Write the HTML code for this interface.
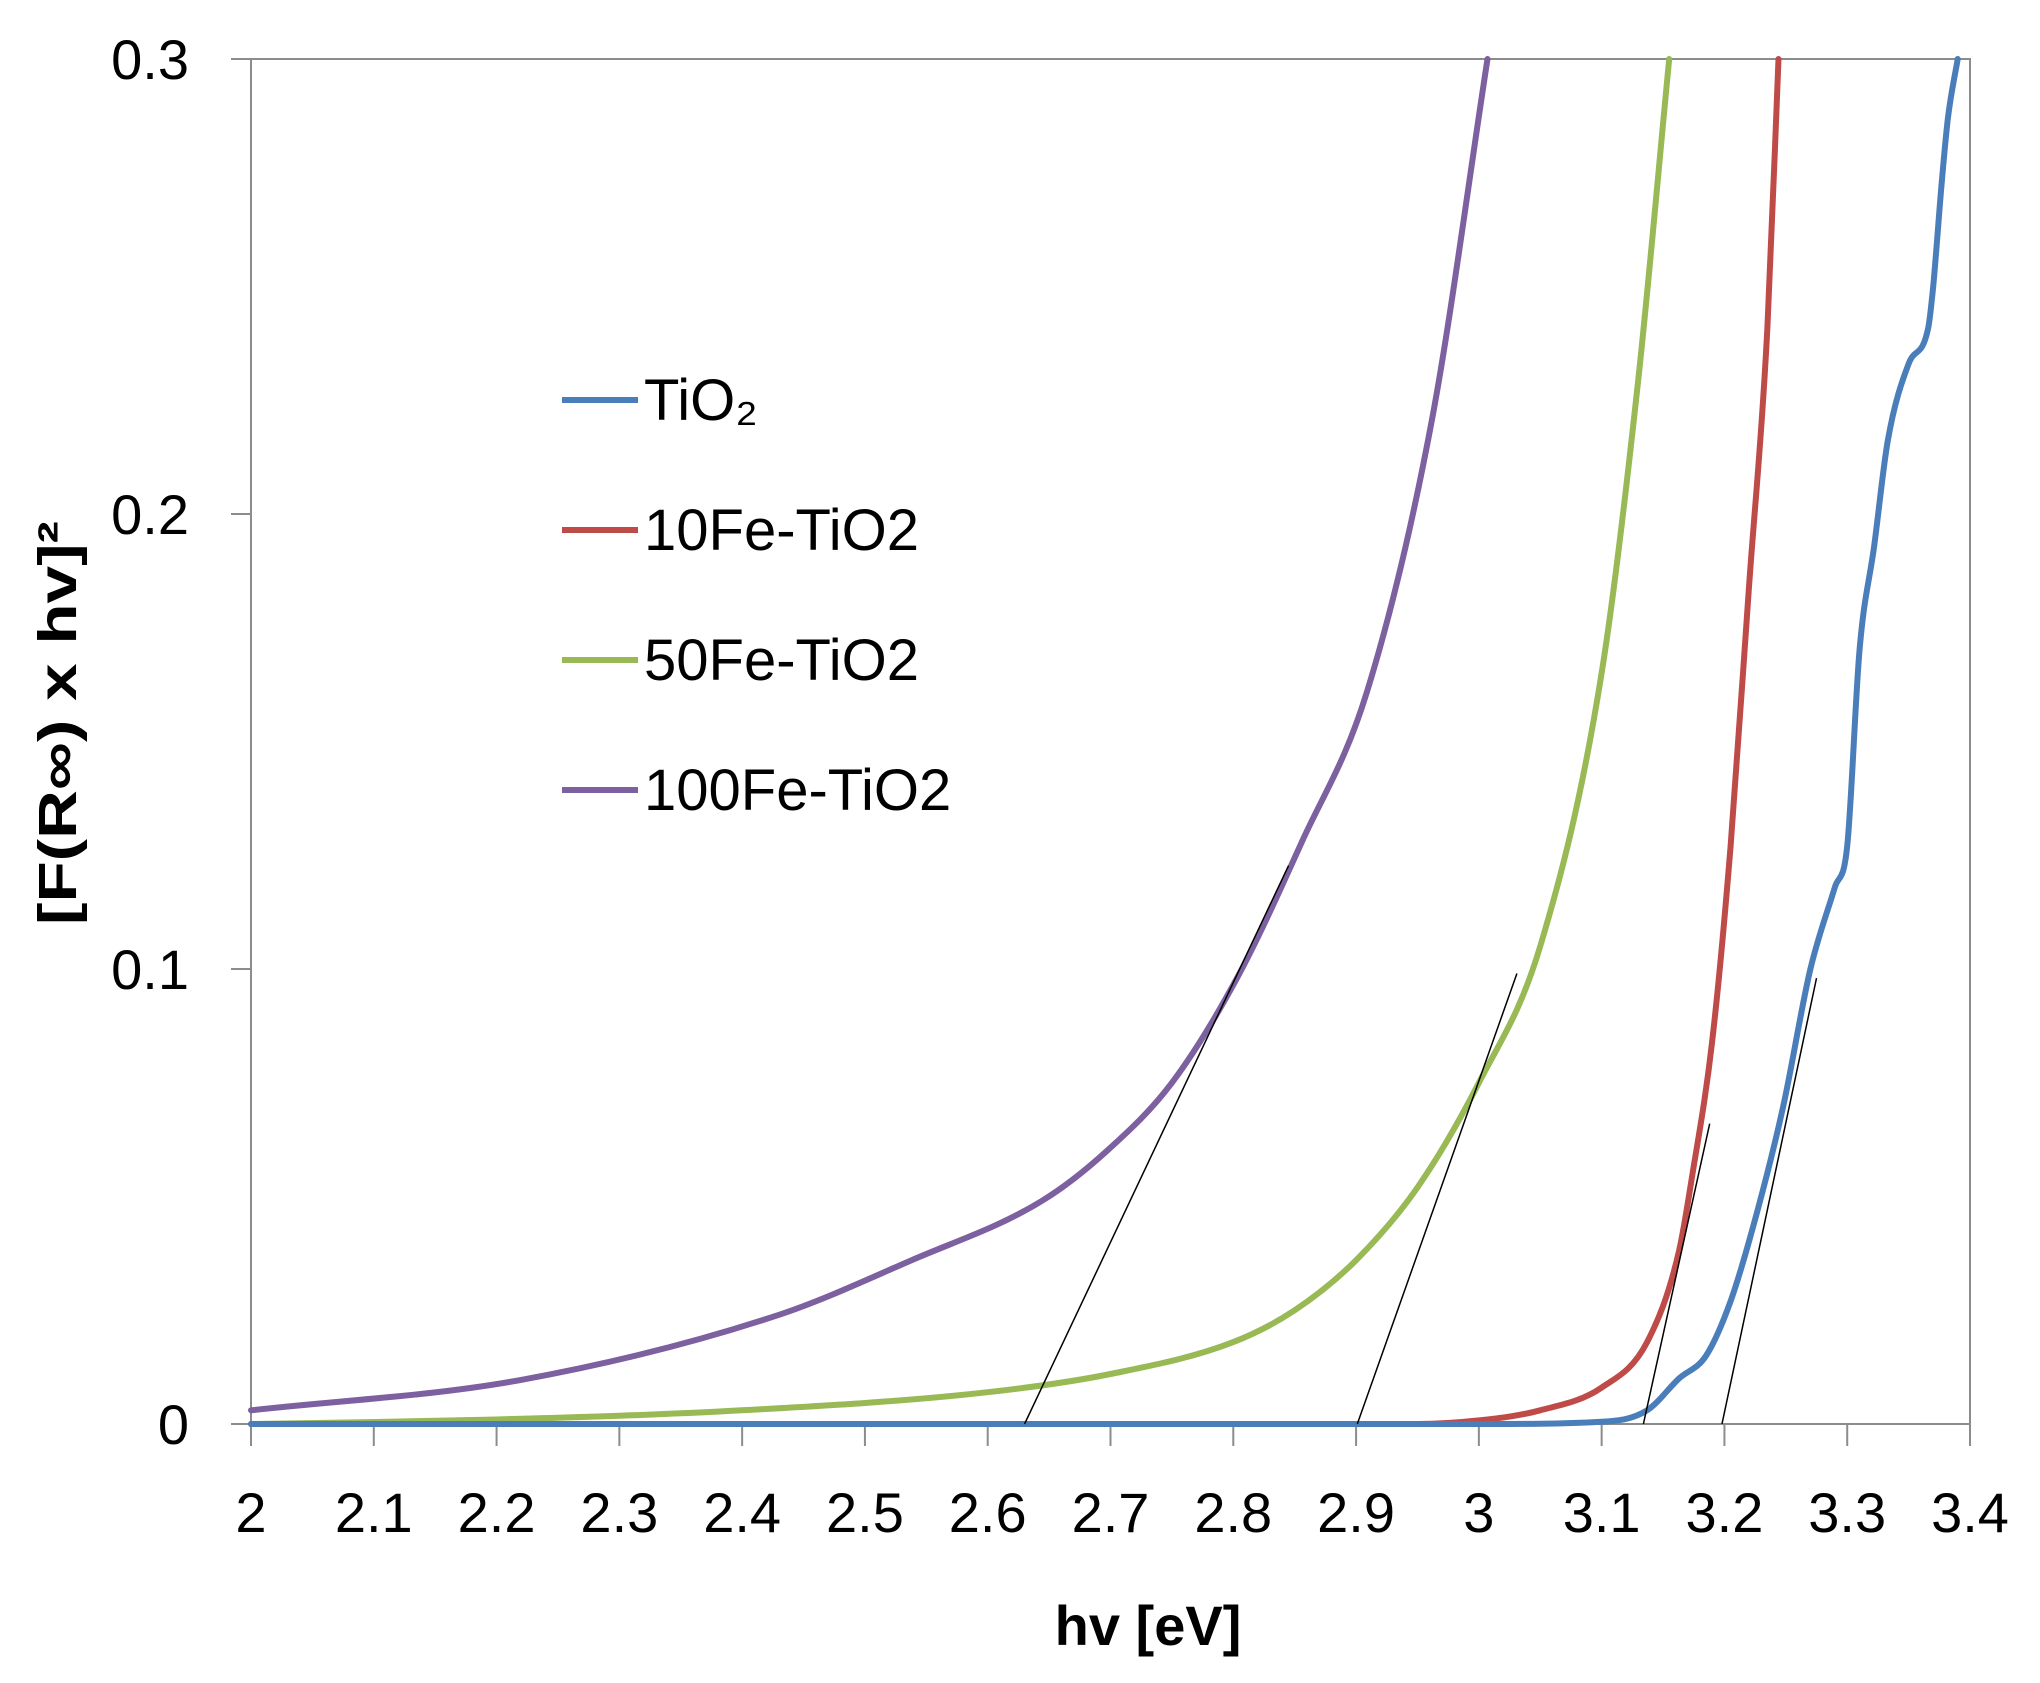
<!DOCTYPE html>
<html><head><meta charset="utf-8"><style>
html,body{margin:0;padding:0;background:#fff;}
svg{display:block;font-family:"Liberation Sans","DejaVu Sans",sans-serif;}
</style></head><body>
<svg id="chart" width="2040" height="1683" viewBox="0 0 2040 1683">
<rect x="0" y="0" width="2040" height="1683" fill="#fff"/>
<g id="plot"></g>
</svg>
<script>
const xTicks=[2,2.1,2.2,2.3,2.4,2.5,2.6,2.7,2.8,2.9,3,3.1,3.2,3.3,3.4];
const xTickLabels=["2","2.1","2.2","2.3","2.4","2.5","2.6","2.7","2.8","2.9","3","3.1","3.2","3.3","3.4"];
const yTicks=[0,0.1,0.2,0.3];
const yTickLabels=["0","0.1","0.2","0.3"];
const seriesNames=["TiO\u2082","10Fe-TiO2","50Fe-TiO2","100Fe-TiO2"];
const tio2X=[2,3.0,3.1,3.137,3.163,3.185,3.205,3.227,3.248,3.27,3.29,3.3,3.31,3.322,3.333,3.35,3.366,3.37,3.377,3.382,3.39];
const tio2Y=[0,0,0.0005,0.003,0.01,0.015,0.027,0.047,0.07,0.1,0.118,0.127,0.17,0.193,0.216,0.233,0.241,0.25,0.273,0.287,0.3];
const fe10X=[2,2.95,3.0,3.05,3.1,3.137,3.163,3.174,3.19,3.205,3.22,3.235,3.244];
const fe10Y=[0,0,0.0008,0.003,0.008,0.018,0.038,0.055,0.084,0.127,0.184,0.241,0.3];
const fe50X=[2,2.2,2.4,2.6,2.7,2.8,2.85,2.9,2.95,3.0,3.05,3.1,3.13,3.155];
const fe50Y=[0,0.001,0.003,0.007,0.011,0.018,0.025,0.036,0.052,0.075,0.105,0.165,0.23,0.3];
const fe100X=[2,2.22,2.43,2.538,2.644,2.697,2.75,2.803,2.856,2.909,2.962,3.007];
const fe100Y=[0.003,0.0097,0.024,0.036,0.049,0.06,0.075,0.098,0.128,0.161,0.221,0.3];
const tangentX0=[3.198,3.134,2.901,2.63];
const tangentX1=[3.275,3.188,3.031,2.845];
const tangentY1=[0.098,0.066,0.099,0.1227];
const colors=["#4a7ebb","#be4b48","#98b954","#7d60a0"];

const L=251,R=1970,T=59,B=1424;
const xS=v=>L+(v-2)/(3.4-2)*(R-L);
const yS=v=>B-(v/0.3)*(B-T);
const NS="http://www.w3.org/2000/svg";
const g=document.getElementById('plot');
function mk(tag,attrs,parent){const e=document.createElementNS(NS,tag);for(const k in attrs)e.setAttribute(k,attrs[k]);(parent||g).appendChild(e);return e;}
// monotone cubic (Fritsch-Carlson) in pixel space
function monotone(p){
  const n=p.length,d=[],m=[];
  for(let i=0;i<n-1;i++)d.push((p[i+1][1]-p[i][1])/(p[i+1][0]-p[i][0]));
  m[0]=d[0];m[n-1]=d[n-2];
  for(let i=1;i<n-1;i++){m[i]=(d[i-1]*d[i]<=0)?0:(d[i-1]+d[i])/2;}
  for(let i=0;i<n-1;i++){
    if(d[i]===0){m[i]=0;m[i+1]=0;continue;}
    const a=m[i]/d[i],b=m[i+1]/d[i],s=a*a+b*b;
    if(s>9){const t=3/Math.sqrt(s);m[i]=t*a*d[i];m[i+1]=t*b*d[i];}
  }
  let s='M'+p[0][0].toFixed(1)+','+p[0][1].toFixed(1);
  for(let i=0;i<n-1;i++){
    const h=(p[i+1][0]-p[i][0])/3;
    s+=' C'+(p[i][0]+h).toFixed(1)+','+(p[i][1]+m[i]*h).toFixed(1)+' '+(p[i+1][0]-h).toFixed(1)+','+(p[i+1][1]-m[i+1]*h).toFixed(1)+' '+p[i+1][0].toFixed(1)+','+p[i+1][1].toFixed(1);
  }
  return s;
}

const frame=mk('rect',{x:L,y:T,width:R-L,height:B-T,fill:'none',stroke:'#8c8c8c','stroke-width':2});



yTicks.forEach((v,i)=>{
  const t=mk('line',{x1:L-20,x2:L,y1:yS(v),y2:yS(v),stroke:'#8c8c8c','stroke-width':2});
  
  
  const lb=mk('text',{x:189,y:yS(v)+20,'text-anchor':'end','font-size':56,fill:'#000'});
  lb.textContent=yTickLabels[i];
  
  
});
xTicks.forEach((v,i)=>{
  const t=mk('line',{x1:xS(v),x2:xS(v),y1:B,y2:B+22,stroke:'#8c8c8c','stroke-width':2});
  
  
  const lb=mk('text',{x:xS(v),y:1532,'text-anchor':'middle','font-size':56,fill:'#000'});
  lb.textContent=xTickLabels[i];
  
  
});

const data=[[tio2X,tio2Y],[fe10X,fe10Y],[fe50X,fe50Y],[fe100X,fe100Y]];
const keys=['tio2','fe10','fe50','fe100'];
[3,2,1,0].forEach(i=>{
  const [xs,ys]=data[i];
  const pts=xs.map((x,j)=>[xS(x),yS(ys[j])]);
  const p=mk('path',{d:monotone(pts),fill:'none',stroke:colors[i],'stroke-width':6,'stroke-linejoin':'round','stroke-linecap':'round'});
  
  
});
tangentX0.forEach((x0,i)=>{
  const l=mk('line',{x1:xS(x0),y1:yS(0),x2:xS(tangentX1[i]),y2:yS(tangentY1[i]),stroke:'#000','stroke-width':1.5});
  
  
});

seriesNames.forEach((n,i)=>{
  const y=400+i*130;
  const l=mk('line',{x1:562,x2:638,y1:y,y2:y,stroke:colors[i],'stroke-width':6});
  
  
  const t=mk('text',{x:644,y:y+20,'font-size':58,fill:'#000'});
  t.textContent=n;
  
  
});

const xt=mk('text',{x:1148,y:1645,'text-anchor':'middle','font-size':56,'font-weight':'bold',fill:'#000'});
xt.textContent='hv [eV]';


const yt=mk('text',{x:0,y:0,'text-anchor':'middle','font-size':54,'font-weight':'bold',fill:'#000',textLength:404,lengthAdjust:'spacingAndGlyphs',transform:'translate(76,723) rotate(-90)'});
yt.textContent='[F(R\u221E) x hv]\u00B2';


</script>
</body></html>
